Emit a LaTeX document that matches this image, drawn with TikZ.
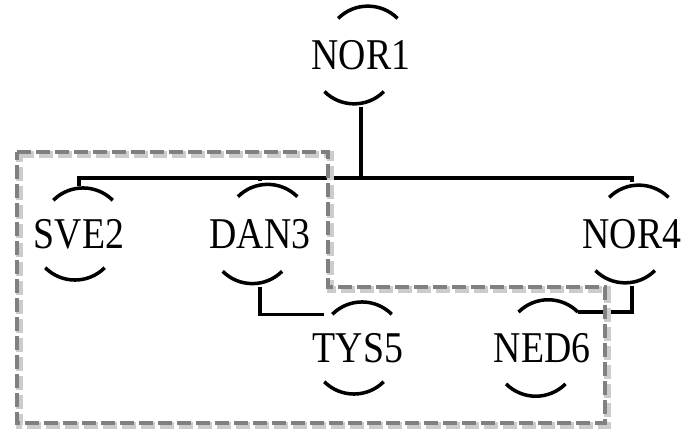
\documentclass[tikz,border=0pt]{standalone}
\usepackage{fontspec}
\setmainfont{Liberation Serif}[FakeStretch=0.86]
\usetikzlibrary{positioning}

\begin{document}
\begin{tikzpicture}[
    site/.style={circle, minimum size=1.68cm, inner sep=0pt, font=\fontsize{25}{29}\selectfont},
    ring/.style={draw=black, line width=2pt},
    wire/.style={draw=black, line width=2pt},
    group/.style={draw=black!50, line width=2.8pt, dash pattern=on 0.28cm off 0.1cm},
    groupshadow/.style={draw=black!20, line width=3.6pt, dash pattern=on 0.28cm off 0.1cm}
  ]
    \useasboundingbox (0,0) rectangle (13.78,8.64);
    % sites
    \node[site] (nor1) at (7.22,7.54) {NOR1};
    \node[site] (sve2) at (1.58,3.96) {SVE2};
    \node[site] (dan3) at (5.20,3.96) {DAN3};
    \node[site] (nor4) at (12.64,3.96) {NOR4};
    \node[site] (tys5) at (7.16,1.68) {TYS5};
    \node[site] (ned6) at (10.84,1.68) {NED6};
    \foreach \n in {nor1,sve2,dan3,nor4,tys5,ned6} {
      \draw[ring] (\n.45) arc[start angle=45, end angle=135, radius=0.84cm];
      \draw[ring] (\n.225) arc[start angle=225, end angle=315, radius=0.84cm];
    }
    % tree
    \coordinate (bus) at (0,5.08);
    \draw[wire] (nor1.south) -- (nor1 |- bus);
    \draw[wire] (sve2.north) -- (sve2 |- bus) -- (nor4 |- bus) -- (nor4.north);
    \draw[wire] (dan3.north) -- (dan3 |- bus);
    \draw[wire] (dan3.south) |- (tys5.135);
    \draw[wire] (nor4.south) |- (ned6.45);
    % dashed group
    \draw[groupshadow, shift={(0.05,-0.05)}] (0.34,5.60) -- (6.56,5.60) -- (6.56,2.90) -- (12.10,2.90) -- (12.10,0.18) -- (0.34,0.18) -- cycle;
    \draw[group] (0.34,5.60) -- (6.56,5.60) -- (6.56,2.90) -- (12.10,2.90) -- (12.10,0.18) -- (0.34,0.18) -- cycle;
\end{tikzpicture}
\end{document}
